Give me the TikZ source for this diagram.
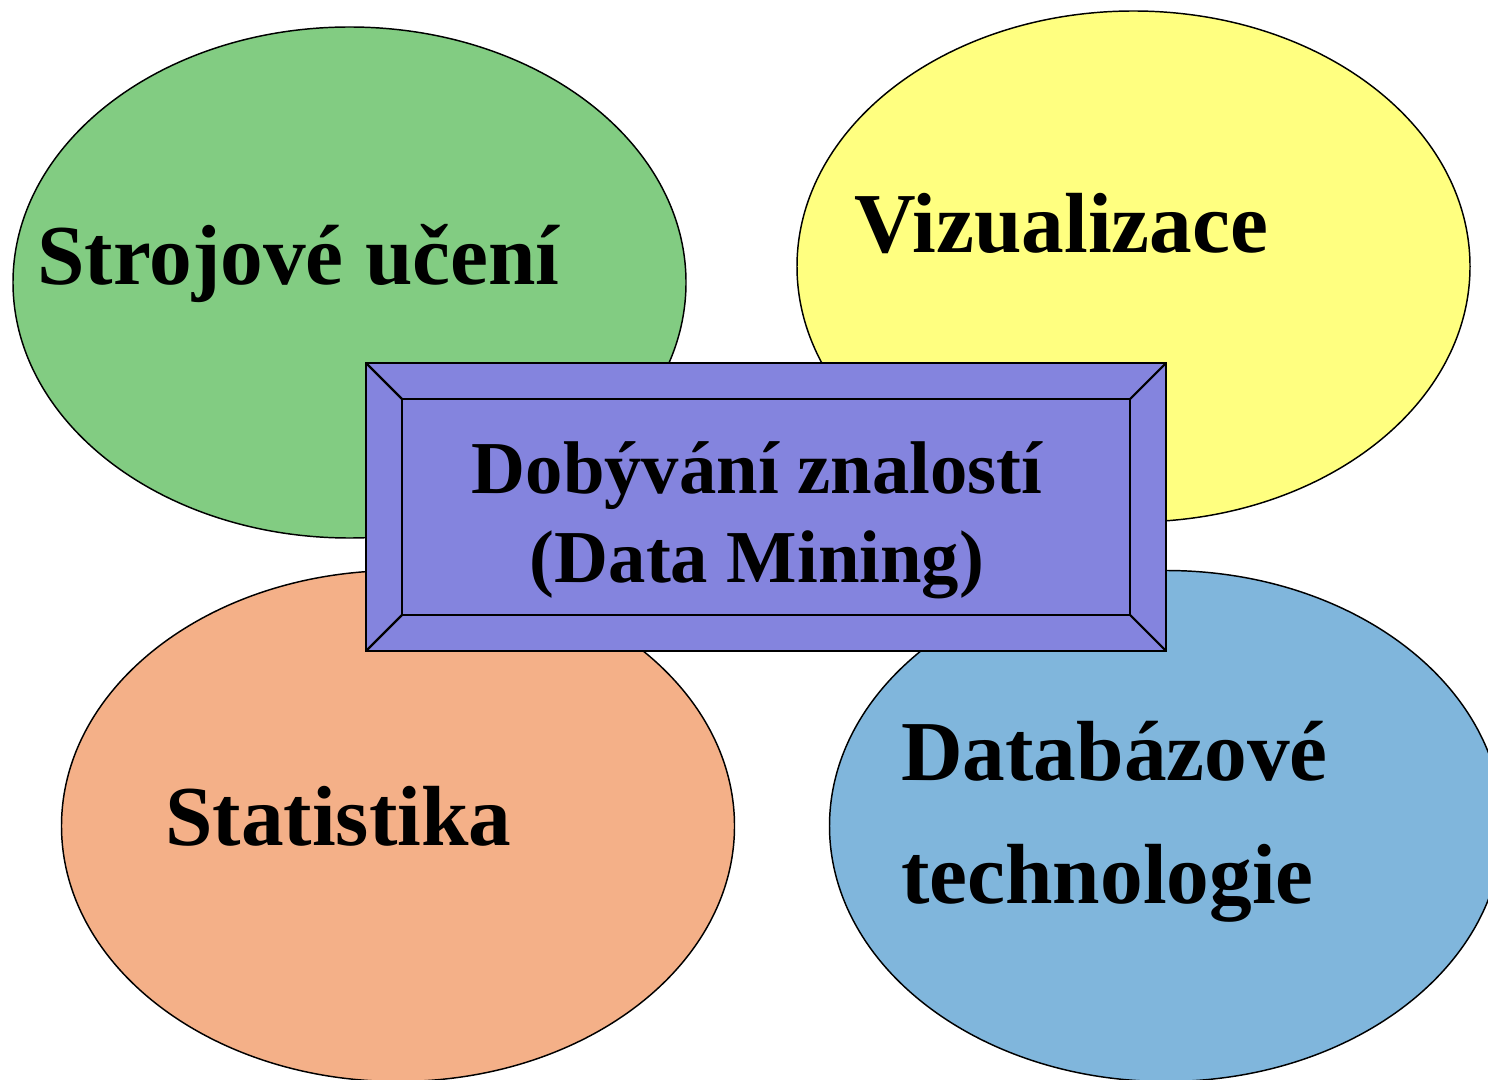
\documentclass[tikz,border=0pt]{standalone}
\usepackage{fontspec}
\setmainfont{Liberation Serif}
\usetikzlibrary{shapes.geometric}
\definecolor{cgreen}{RGB}{130,204,130}
\definecolor{cyellow}{RGB}{255,255,128}
\definecolor{corange}{RGB}{244,176,136}
\definecolor{cblue}{RGB}{128,182,220}
\definecolor{cpurple}{RGB}{132,132,222}
\tikzset{
  blob/.style={ellipse, draw=black, line width=1.1pt, inner sep=0pt,
    minimum width=504.75pt, minimum height=383.25pt},
  bigtxt/.style={font=\fontsize{64}{72}\selectfont\bfseries, inner sep=0pt, anchor=base west},
  midtxt/.style={font=\fontsize{56}{60}\selectfont\bfseries, inner sep=0pt, anchor=base},
  frame/.style={draw=black, line width=1.6pt}
}
\begin{document}
\begin{tikzpicture}[x=0.75pt,y=-0.75pt]
\useasboundingbox (0,0) rectangle (1488,1080);
\node[blob, fill=cgreen] (ml) at (349.5,282.5) {};
\node[blob, fill=cyellow] (viz) at (1133.5,266.5) {};
\node[blob, fill=corange] (stat) at (398,826) {};
\node[blob, fill=cblue] (db) at (1166,826) {};
% bevelled frame
\coordinate (o1) at (366,363);
\coordinate (o2) at (1166,363);
\coordinate (o3) at (1166,651);
\coordinate (o4) at (366,651);
\coordinate (i1) at (402,399);
\coordinate (i2) at (1130,399);
\coordinate (i3) at (1130,615);
\coordinate (i4) at (402,615);
\fill[cpurple] (o1) -- (o2) -- (o3) -- (o4) -- cycle;
\draw[frame] (o1) -- (o2) -- (o3) -- (o4) -- cycle;
\draw[frame] (i1) -- (i2) -- (i3) -- (i4) -- cycle;
\draw[frame] (o1) -- (i1);
\draw[frame] (o2) -- (i2);
\draw[frame] (o3) -- (i3);
\draw[frame] (o4) -- (i4);
% texts
\node[bigtxt] (tml) at (37,285) {Strojové učení};
\node[bigtxt] (tviz) at (854,253) {Vizualizace};
\node[bigtxt] (tstat) at (165,845) {Statistika};
\node[bigtxt] (tdb1) at (901,780) {Databázové};
\node[bigtxt] (tdb2) at (901,903) {technologie};
\node[midtxt] (tdm1) at (757,493) {Dobývání znalostí};
\node[midtxt] (tdm2) at (757,582) {(Data Mining)};
\end{tikzpicture}
\end{document}
